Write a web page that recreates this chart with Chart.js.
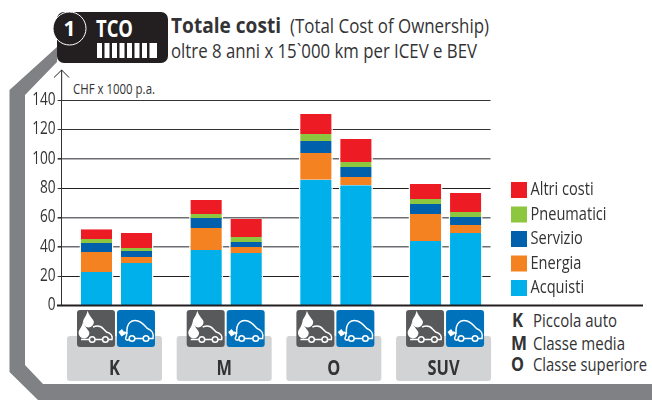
<!DOCTYPE html>
<html><head><meta charset="utf-8">
<style>
html,body{margin:0;padding:0;background:#fff;width:652px;height:405px;overflow:hidden}
#wrap{position:relative;width:652px;height:405px}
svg,canvas{position:absolute;left:0;top:0}
text{font-family:"Open Sans",sans-serif;fill:#333335}
</style></head><body>
<div id="wrap">
<svg width="652" height="405" viewBox="0 0 652 405">
  <polygon points="57,47 9.5,90 9.5,372 38,400 652,400 652,384 43,384 25,365 25,95 57,62" fill="#808184"/>
  <rect x="57" y="12" width="111" height="51" rx="7" fill="#231f20"/>
  <circle cx="69.5" cy="28.5" r="16.5" fill="#231f20" stroke="#fff" stroke-width="1"/>
  <text x="69.5" y="36" text-anchor="middle" font-weight="bold" font-size="21" style="fill:#fff">1</text>
  <text x="96" y="37" font-weight="bold" font-size="23" textLength="37" lengthAdjust="spacingAndGlyphs" style="fill:#fff">TCO</text>
  <g fill="#fff">
    <rect x="97" y="43" width="5" height="15"/><rect x="104.5" y="43" width="5" height="15"/>
    <rect x="112" y="43" width="5" height="15"/><rect x="119.5" y="43" width="5" height="15"/>
    <rect x="127" y="43" width="5" height="15"/><rect x="134.5" y="43" width="5" height="15"/>
    <rect x="142" y="43" width="5" height="15"/><rect x="149.5" y="43" width="7.5" height="15"/>
  </g>
  <text x="171" y="33" font-weight="bold" font-size="21" textLength="110" lengthAdjust="spacingAndGlyphs">Totale costi</text>
  <text x="290" y="33" font-size="19.5" textLength="199" lengthAdjust="spacingAndGlyphs">(Total Cost of Ownership)</text>
  <text x="171" y="58" font-size="19.5" textLength="306" lengthAdjust="spacingAndGlyphs">oltre 8 anni x 15`000 km per ICEV e BEV</text>
  <text x="73" y="94" font-size="15" textLength="82" lengthAdjust="spacingAndGlyphs">CHF x 1000 p.a.</text>
  <text x="512" y="327" font-weight="bold" font-size="19.5" textLength="11" lengthAdjust="spacingAndGlyphs">K</text>
  <text x="511" y="349.5" font-weight="bold" font-size="19.5" textLength="16" lengthAdjust="spacingAndGlyphs">M</text>
  <text x="511" y="371" font-weight="bold" font-size="19.5" textLength="13" lengthAdjust="spacingAndGlyphs">O</text>
  <text x="533" y="327" font-size="19" textLength="84" lengthAdjust="spacingAndGlyphs">Piccola auto</text>
  <text x="533" y="349.5" font-size="19" textLength="92" lengthAdjust="spacingAndGlyphs">Classe media</text>
  <text x="533" y="371" font-size="19" textLength="114" lengthAdjust="spacingAndGlyphs">Classe superiore</text>
</svg>
<canvas id="c" width="652" height="405"></canvas>
</div>
<script src="https://cdn.jsdelivr.net/npm/chart.js@4"></script>
<script>
const categories = ["K", "M", "O", "SUV"];
const yTicks = [0, 20, 40, 60, 80, 100, 120, 140];
const seriesNames = ["Acquisti", "Energia", "Servizio", "Pneumatici", "Altri costi"];
const seriesColors = ["#00b0eb", "#f58220", "#0060ab", "#8dc63f", "#ed1c24"];

const acquistiICEV   = [22.8, 37.8, 85.7, 44.0];
const energiaICEV    = [13.7, 15.0, 18.2, 18.4];
const servizioICEV   = [6.1, 6.8, 8.1, 6.8];
const pneumaticiICEV = [2.7, 2.8, 4.9, 3.4];
const altriICEV      = [6.7, 9.5, 13.6, 10.2];

const acquistiBEV    = [29.0, 35.8, 82.0, 49.4];
const energiaBEV     = [4.0, 4.1, 5.6, 5.5];
const servizioBEV    = [4.1, 3.4, 6.8, 5.4];
const pneumaticiBEV  = [2.1, 3.4, 3.4, 3.4];
const altriBEV       = [10.2, 12.2, 15.7, 13.0];

const FONT = '"Open Sans",sans-serif';
const valuesICEV = [acquistiICEV, energiaICEV, servizioICEV, pneumaticiICEV, altriICEV];
const valuesBEV = [acquistiBEV, energiaBEV, servizioBEV, pneumaticiBEV, altriBEV];
function ds(values, i, stack) {
  return {
    label: seriesNames[i], data: values, stack: stack,
    backgroundColor: seriesColors[i], borderColor: "#fff",
    borderWidth: {left: 1.5, right: 1.5, top: 0, bottom: 0}, borderSkipped: false,
    categoryPercentage: 0.73, barPercentage: 0.85
  };
}
const datasets = valuesICEV.map((v, i) => ds(v, i, "ICEV")).concat(valuesBEV.map((v, i) => ds(v, i, "BEV")));

/* the reference uses a condensed face: narrow all canvas text horizontally */
const canvasEl = document.getElementById("c");
const rawCtx = canvasEl.getContext("2d");
const nativeFillText = rawCtx.fillText.bind(rawCtx);
rawCtx.fillText = function (t, x, y) {
  const isLegend = seriesNames.includes(t);
  this.save();
  this.translate(isLegend ? x - 5.5 : x, y);
  this.scale(isLegend ? 0.81 : 0.78, 1);
  nativeFillText(t, 0, 0);
  this.restore();
};

function roundRect(ctx, x, y, w, h, r, fill) {
  ctx.beginPath(); ctx.roundRect(x, y, w, h, r); ctx.fillStyle = fill; ctx.fill();
}
function wheel(ctx, x, y) {
  ctx.beginPath(); ctx.arc(x, y, 2.8, 0, 7); ctx.stroke();
}
function drop(ctx, x, y, r) {
  ctx.beginPath(); ctx.moveTo(x - 1, y - r * 2.1);
  ctx.bezierCurveTo(x + 1, y - r, x + r, y - r * 0.5, x + r, y);
  ctx.arc(x, y, r, 0, Math.PI);
  ctx.bezierCurveTo(x - r, y - r * 0.7, x - 2, y - r, x - 1, y - r * 2.1);
  ctx.fill();
}
function iconICEV(ctx, x, y) {
  roundRect(ctx, x, y, 38, 37, 3, "#58595b");
  ctx.save(); ctx.translate(x, y);
  ctx.fillStyle = "#fff"; ctx.strokeStyle = "#fff"; ctx.lineWidth = 1.5;
  drop(ctx, 11.5, 12, 5.4); drop(ctx, 7, 23, 5.4);
  ctx.beginPath(); ctx.moveTo(16, 17); ctx.bezierCurveTo(20, 15.5, 24, 16, 26.5, 19);
  ctx.lineTo(29.5, 22); ctx.bezierCurveTo(34, 23, 36, 26, 35, 29.5); ctx.lineTo(31, 29.5);
  ctx.moveTo(25.5, 29.5); ctx.lineTo(18, 29.5); ctx.moveTo(12.5, 29.5); ctx.lineTo(4, 29.5); ctx.stroke();
  wheel(ctx, 15.2, 29.5); wheel(ctx, 28.4, 29.5);
  ctx.restore();
}
function iconBEV(ctx, x, y) {
  roundRect(ctx, x, y, 38, 37, 3, "#0072bc");
  ctx.save(); ctx.translate(x, y);
  ctx.fillStyle = "#fff"; ctx.strokeStyle = "#fff"; ctx.lineWidth = 1.5;
  ctx.beginPath(); ctx.moveTo(1.5, 22); ctx.lineTo(5, 19); ctx.lineTo(8.5, 24); ctx.lineTo(4.5, 26.5); ctx.closePath(); ctx.fill();
  ctx.beginPath(); ctx.moveTo(7, 22); ctx.bezierCurveTo(10, 22, 10, 26, 9, 27);
  ctx.bezierCurveTo(7.5, 30, 11, 31, 12, 29);
  ctx.moveTo(10, 24); ctx.bezierCurveTo(9, 12, 15, 9.5, 21, 11);
  ctx.bezierCurveTo(25, 12, 28, 16, 30.5, 18.5); ctx.bezierCurveTo(35, 20, 37, 24, 36, 28.5);
  ctx.lineTo(32, 28.5); ctx.moveTo(26, 28.5); ctx.lineTo(18, 28.5); ctx.stroke();
  wheel(ctx, 15, 28.5); wheel(ctx, 29, 28.5);
  ctx.restore();
}

const decor = {
  id: "decor",
  beforeLayout(c) {
    const l = c.legend;
    if (!l.__patched) {
      const fit = l.fit;
      l.fit = function () { fit.call(this); this.width = 652 - 500.4; };
      l.__patched = true;
    }
  },
  afterLayout(c) {
    const l = c.legend;
    l.left = 504.5; l.right = 652; l.top = 174.5; l.bottom = 405;
  },
  beforeDraw(c) {
    const ctx = c.ctx, xs = c.scales.x;
    categories.forEach((cat, i) => {
      const cx = xs.getPixelForTick(i);
      roundRect(ctx, cx - 49.5, 336, 95, 45, 3, "#d1d3d4");
      iconICEV(ctx, cx - 39.5, 310);
      iconBEV(ctx, cx + 0.5, 310);
    });
  },
  beforeDatasetsDraw(c) {
    const a = c.chartArea;
    c.ctx.fillStyle = "#fff";
    c.ctx.fillRect(490.5, a.top - 3, a.right - 490 + 2, a.bottom - a.top + 3);
  },
  afterDraw(c) {
    const ctx = c.ctx, a = c.chartArea, y0 = c.scales.y.getPixelForValue(0);
    ctx.save();
    ctx.strokeStyle = "#231f20";
    ctx.lineWidth = 2;
    ctx.beginPath(); ctx.moveTo(57, y0); ctx.lineTo(643, y0); ctx.stroke();
    ctx.lineWidth = 1;
    ctx.beginPath();
    ctx.moveTo(a.left, a.top); ctx.lineTo(a.left, 70);
    ctx.moveTo(54, 77.5); ctx.lineTo(a.left, 70); ctx.lineTo(69, 77.5);
    ctx.stroke();
    ctx.restore();
  }
};

const gridColorFor = {140: "#333", 120: "#333", 100: "#6d6e71", 80: "#231f20", 60: "#6d6e71", 40: "#6d6e71", 20: "#231f20", 0: "#231f20"};
const gridWidthFor = {140: 1, 120: 1, 100: 1.6, 80: 1, 60: 1.6, 40: 1.6, 20: 1, 0: 1};

new Chart(canvasEl, {
  type: "bar",
  data: {labels: categories, datasets},
  plugins: [decor],
  options: {
    responsive: false, animation: false, devicePixelRatio: 1,
    layout: {padding: {top: 100, left: 0, right: 0, bottom: 0}},
    plugins: {
      tooltip: {enabled: false},
      title: {display: false},
      legend: {
        position: "right", align: "start", reverse: true,
        labels: {
          boxWidth: 16, boxHeight: 16, padding: 6.5, color: "#333335",
          font: {family: FONT, size: 18},
          filter: (item) => item.datasetIndex < seriesNames.length,
          generateLabels(chart) {
            return Chart.defaults.plugins.legend.labels.generateLabels(chart).map(it => Object.assign(it, {lineWidth: 0, strokeStyle: "transparent"}));
          }
        }
      }
    },
    scales: {
      x: {
        stacked: true,
        grid: {display: false}, border: {display: false},
        afterFit(s) { s.height = 405 - 305.5; },
        ticks: {
          padding: 43, color: "#333335", autoSkip: false, maxRotation: 0, labelOffset: -2,
          font: {family: FONT, size: 21, weight: "bold"}
        }
      },
      y: {
        stacked: true, min: 0, max: 140,
        afterFit(s) { s.width = 61.65; },
        border: {display: true, color: "#333", width: 1},
        grid: {
          color: (ctx) => gridColorFor[ctx.tick ? ctx.tick.value : 0],
          lineWidth: (ctx) => gridWidthFor[ctx.tick ? ctx.tick.value : 0],
          tickColor: "#333", tickLength: 4, drawTicks: true
        },
        afterBuildTicks(s) { s.ticks = yTicks.map(v => ({value: v})); },
        ticks: {
          padding: 2, color: "#333335", font: {family: FONT, size: 17.5}
        }
      }
    }
  }
});
</script>
</body></html>
